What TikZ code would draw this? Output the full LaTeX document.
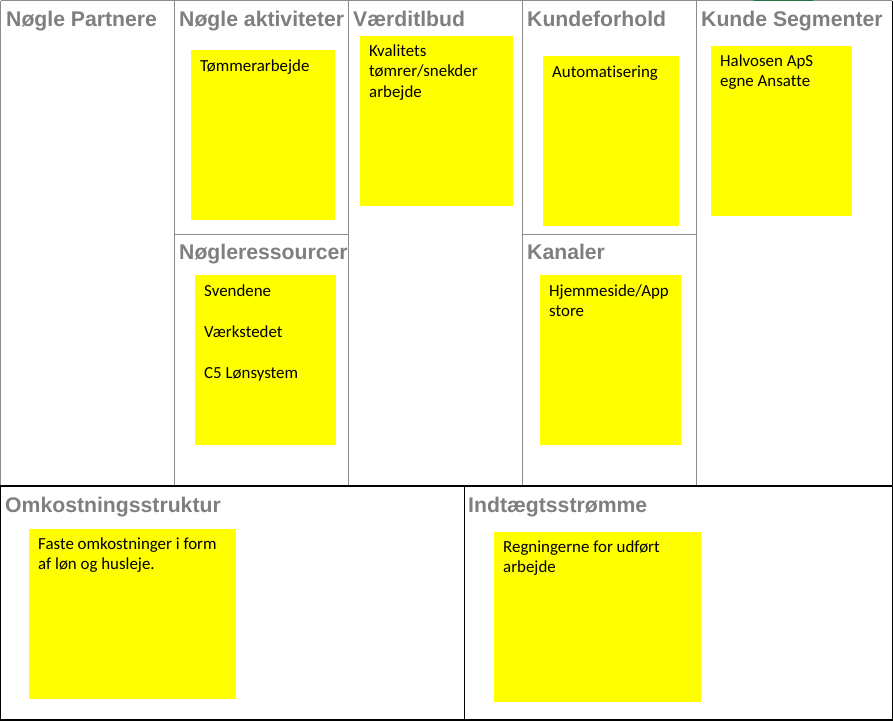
\documentclass[tikz,border=0pt]{standalone}
\usepackage{fontspec}
\setmainfont{Carlito}[Ligatures=NoCommon]
\newfontfamily\hdrfont{Liberation Sans}
\definecolor{hdrgray}{HTML}{7F7F7F}
\definecolor{linegray}{HTML}{8C8C8C}
\definecolor{sticky}{HTML}{FFFF00}
\definecolor{xlgreen}{HTML}{217346}
\tikzset{
  hdr/.style={anchor=base west, inner sep=0pt, text=hdrgray, font=\hdrfont\bfseries\fontsize{21.2}{25}\selectfont},
  note/.style={anchor=north west, inner sep=0pt, fill=sticky, draw=none},
  notetext/.style={anchor=base west, inner sep=0pt, align=left, text=black, font=\fontsize{16.9}{20.5}\selectfont},
  thin/.style={draw=linegray, line width=1pt},
  thick/.style={draw=black, line width=1.2pt}
}
\begin{document}
\begin{tikzpicture}[x=1pt,y=-1pt]
\useasboundingbox (0,0) rectangle (893,721);
\fill[white] (0,0) rectangle (893,721);
% grid coordinates
\coordinate (tl) at (0.5,0.5);
\coordinate (tr) at (892.3,0.5);
\coordinate (ml) at (0.5,486);
\coordinate (mr) at (892.3,486);
\coordinate (bl) at (0.5,720);
\coordinate (br) at (892.3,720);
\coordinate (v1t) at (174.5,0.5);  \coordinate (v1b) at (174.5,486);
\coordinate (v2t) at (348.5,0.5);  \coordinate (v2b) at (348.5,486);
\coordinate (v3t) at (522.5,0.5);  \coordinate (v3b) at (522.5,486);
\coordinate (v4t) at (696.5,0.5);  \coordinate (v4b) at (696.5,486);
\coordinate (h1a) at (174.5,234.5); \coordinate (h1b) at (348.5,234.5);
\coordinate (h2a) at (522.5,234.5); \coordinate (h2b) at (696.5,234.5);
\coordinate (vbt) at (464.5,486);  \coordinate (vbb) at (464.5,720);
\coordinate (g1) at (754,0.5); \coordinate (g2) at (813,0.5);
% gray lines
\draw[thin] (tl) -- (tr);
\draw[thin] (tl) -- (ml);
\draw[thin] (v1t) -- (v1b);
\draw[thin] (v2t) -- (v2b);
\draw[thin] (v3t) -- (v3b);
\draw[thin] (v4t) -- (v4b);
\draw[thin] (h1a) -- (h1b);
\draw[thin] (h2a) -- (h2b);
\draw[draw=xlgreen, line width=1.2pt] (g1) -- (g2);
% black lines
\draw[thick] (tr) -- (br) -- (bl) -- (ml) -- (mr);
\draw[thick] (vbt) -- (vbb);
% headers
\node[hdr] (hpart) at (6,26) {Nøgle Partnere};
\node[hdr] (hakt) at (179,26) {Nøgle aktiviteter};
\node[hdr] (hvaerdi) at (353,26) {Værditlbud};
\node[hdr] (hkunde) at (527,26) {Kundeforhold};
\node[hdr] (hseg) at (701,26) {Kunde Segmenter};
\node[hdr] (hres) at (179,259.5) {Nøgleressourcer};
\node[hdr] (hkan) at (527,259.5) {Kanaler};
\node[hdr] (homk) at (5,512) {Omkostningsstruktur};
\node[hdr] (hind) at (468,512) {Indtægtsstrømme};
% sticky notes
\node[note, minimum width=144pt, minimum height=169.5pt] (nakt) at (191,50) {};
\node[note, minimum width=153pt, minimum height=169.5pt] (nvaerdi) at (360,36) {};
\node[note, minimum width=136pt, minimum height=169.5pt] (nkunde) at (543,56) {};
\node[note, minimum width=141pt, minimum height=169.5pt] (nseg) at (711,46) {};
\node[note, minimum width=141pt, minimum height=170pt] (nres) at (195,275) {};
\node[note, minimum width=141pt, minimum height=170pt] (nkan) at (540,275) {};
\node[note, minimum width=207pt, minimum height=170pt] (nomk) at (29,529) {};
\node[note, minimum width=207pt, minimum height=169.5pt] (nind) at (494,532) {};
% note texts (anchor = baseline of the last line)
\node[notetext] (takt) at ([shift={(9pt,-21pt)}]nakt.north west) {Tømmerarbejde};
\node[notetext] (tvaerdi) at ([shift={(9pt,-61pt)}]nvaerdi.north west) {Kvalitets\\tømrer/snekder\\arbejde};
\node[notetext] (tkunde) at ([shift={(9pt,-21pt)}]nkunde.north west) {Automatisering};
\node[notetext] (tseg) at ([shift={(9pt,-40.5pt)}]nseg.north west) {Halvosen ApS\\egne Ansatte};
\node[notetext] (tres) at ([shift={(9pt,-103pt)}]nres.north west) {Svendene\\[20.5pt]Værkstedet\\[20.5pt]C5 Lønsystem};
\node[notetext] (tkan) at ([shift={(9pt,-41.5pt)}]nkan.north west) {Hjemmeside/App\\store};
\node[notetext] (tomk) at ([shift={(9pt,-40.5pt)}]nomk.north west) {Faste omkostninger i form\\af løn og husleje.};
\node[notetext] (tind) at ([shift={(9pt,-40.5pt)}]nind.north west) {Regningerne for udført\\arbejde};
\end{tikzpicture}
\end{document}
